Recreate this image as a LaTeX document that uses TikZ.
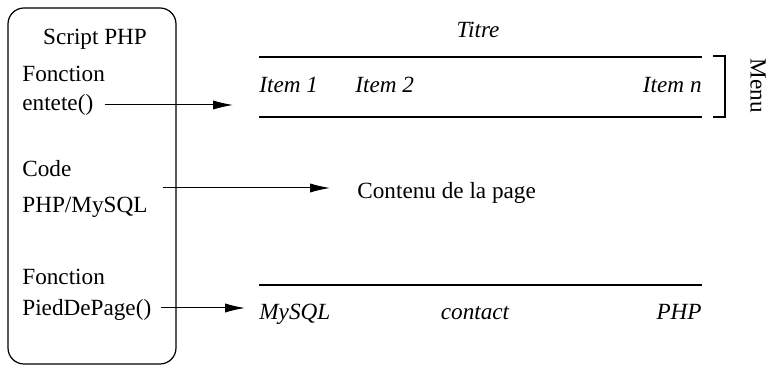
\documentclass[tikz,border=0pt]{standalone}
\usepackage{fontspec}
\setmainfont{Liberation Serif}
\usetikzlibrary{arrows.meta, positioning}

\begin{document}
\begin{tikzpicture}[x=0.5pt, y=-0.5pt, font=\fontsize{11.6}{14}\selectfont,
    fleche/.style={-{Latex[length=10pt,width=4.6pt]}, line width=0.5pt},
    barre/.style={line width=1.3pt}]
\useasboundingbox (0,0) rectangle (768,367);

% le script
\draw[rounded corners=8pt, line width=0.6pt] (8,8) rectangle (176,364);
\begin{scope}[every node/.style={inner sep=0pt, anchor=base west}]
    \node[anchor=base] (script) at (95,45) {Script PHP};
    \node (fct1) at (22,82) {Fonction};
    \node (entete) at (22,111) {entete()};
    \node (code) at (22,177) {Code};
    \node (sql) at (22,213) {PHP/MySQL};
    \node (fct2) at (22,285) {Fonction};
    \node (pied) at (22,316) {PiedDePage()};
\end{scope}

% la page
\begin{scope}[every node/.style={inner sep=0pt, font=\fontsize{11.6}{14}\selectfont\itshape}]
    \node[anchor=base] (titre) at (478,38) {Titre};
    \node[anchor=base west] (item1) at (259,93) {Item 1};
    \node[anchor=base west] (item2) at (355,93) {Item 2};
    \node[anchor=base east] (itemn) at (702,93) {Item n};
    \node[anchor=base west] (mysql) at (259,320) {MySQL};
    \node[anchor=base] (contact) at (475,320) {contact};
    \node[anchor=base east] (php) at (702,320) {PHP};
\end{scope}
\node[inner sep=0pt, anchor=base west] (contenu) at (357,199) {Contenu de la page};
\node[inner sep=0pt, rotate=-90] (menu) at (758,86) {Menu};

\coordinate (h1) at (259,57);  \coordinate (h2) at (702,57);
\coordinate (b1) at (259,117); \coordinate (b2) at (702,117);
\coordinate (p1) at (259,285); \coordinate (p2) at (702,285);
\draw[barre] (h1) -- (h2);
\draw[barre] (b1) -- (b2);
\draw[barre] (p1) -- (p2);

% accolade du menu
\draw[line width=0.6pt] (713,56) -- (725,56) -- (725,117) -- (713,117);

% fleches
\coordinate (a1) at (233,105);
\coordinate (a2) at (330,188);
\coordinate (a3) at (245,308);
\draw[fleche] (entete.east |- a1) ++(11,0) -- (a1);
\draw[fleche] (sql.east |- a2) ++(15,0) -- (a2);
\draw[fleche] (pied.east |- a3) ++(9,0) -- (a3);
\end{tikzpicture}
\end{document}
